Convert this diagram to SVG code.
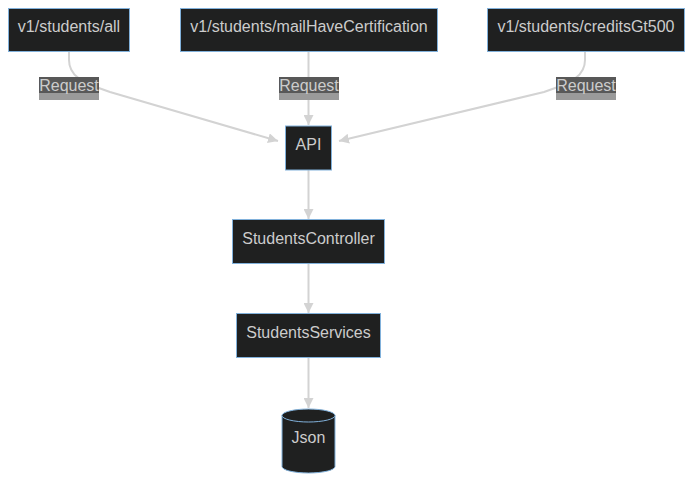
<svg xmlns="http://www.w3.org/2000/svg" width="692" height="482" viewBox="0 0 692 482">
<style>
.node rect, .node path, .node ellipse { fill:#1f2020; stroke:#81B1DB; stroke-width:1; }
.t { font-family:"Liberation Sans", Arial, sans-serif; font-size:16px; fill:#cccccc; text-anchor:middle; }
.edge { fill:none; stroke:#d3d3d3; stroke-width:2; }
.lbl-bg { fill:#585858; }
.lbl-bg2 { fill:#9a9a9a; }
</style>
<defs>
<marker id="arr" viewBox="0 0 10 10" refX="10" refY="5" markerWidth="5" markerHeight="5" markerUnits="strokeWidth" orient="auto">
<path d="M0,0 L10,5 L0,10 z" fill="#d3d3d3"/>
</marker>
</defs>
<rect width="692" height="482" fill="#ffffff"/>
<g id="connectors">
<path class="edge" d="M69,51 L69,60 C69,75 80,82 110,92 L278,141" marker-end="url(#arr)"/>
<path class="edge" d="M308.5,51 L308.5,125" marker-end="url(#arr)"/>
<path class="edge" d="M585,51 L585,60 C585,75 574,82 544,92 L339,141" marker-end="url(#arr)"/>
<path class="edge" d="M308.5,170 L308.5,219" marker-end="url(#arr)"/>
<path class="edge" d="M308.5,264 L308.5,313" marker-end="url(#arr)"/>
<path class="edge" d="M308.5,358 L308.5,408" marker-end="url(#arr)"/>
</g>
<g id="edge-labels">
<g id="label1">
<rect class="lbl-bg2" x="39" y="77" width="60" height="23"/>
<rect class="lbl-bg" x="39" y="77" width="60" height="16"/>
<text class="t" x="69" y="91">Request</text>
</g>
<g id="label2">
<rect class="lbl-bg2" x="279" y="77" width="60" height="23"/>
<rect class="lbl-bg" x="279" y="77" width="60" height="16"/>
<text class="t" x="309" y="91">Request</text>
</g>
<g id="label3">
<rect class="lbl-bg2" x="556" y="77" width="60" height="23"/>
<rect class="lbl-bg" x="556" y="77" width="60" height="16"/>
<text class="t" x="586" y="91">Request</text>
</g>
</g>
<g id="all" class="node">
<rect x="8.5" y="8.5" width="121" height="43"/>
<text class="t" x="69" y="32">v1/students/all</text>
</g>
<g id="mailHaveCertification" class="node">
<rect x="180.5" y="8.5" width="257" height="43"/>
<text class="t" x="309" y="32">v1/students/mailHaveCertification</text>
</g>
<g id="creditsGt500" class="node">
<rect x="487.5" y="8.5" width="197" height="43"/>
<text class="t" x="586" y="32">v1/students/creditsGt500</text>
</g>
<g id="API" class="node">
<rect x="285.5" y="126" width="46" height="44"/>
<text class="t" x="308.5" y="150">API</text>
</g>
<g id="StudentsController" class="node">
<rect x="232.5" y="219.5" width="152" height="44"/>
<text class="t" x="308.5" y="244">StudentsController</text>
</g>
<g id="StudentsServices" class="node">
<rect x="236.5" y="313.5" width="144" height="44"/>
<text class="t" x="308.5" y="338">StudentsServices</text>
</g>
<g id="Json" class="node">
<path d="M282,415.5 A26.5,6.5 0 0 1 335,415.5 L335,466.5 A26.5,6.5 0 0 1 282,466.5 Z"/>
<path d="M282,415.5 A26.5,6.5 0 0 0 335,415.5"/>
<text class="t" x="308.5" y="443">Json</text>
</g>
</svg>
